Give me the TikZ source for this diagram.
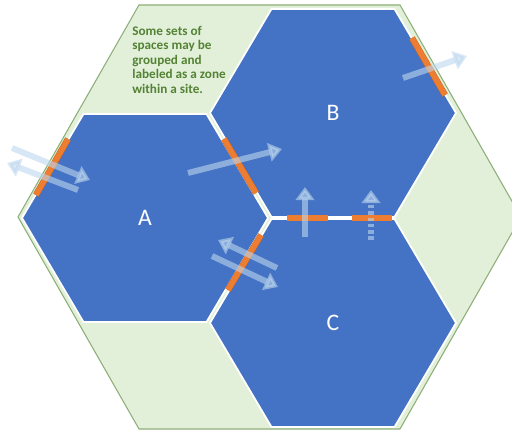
\documentclass[tikz,border=0pt]{standalone}
\usepackage{fontspec}
\setmainfont{Carlito}
\usepackage{tikz}
\usetikzlibrary{arrows.meta}
\definecolor{zonegreen}{HTML}{E2F0D9}
\definecolor{zoneedge}{HTML}{8CAE78}
\definecolor{spaceblue}{HTML}{4472C4}
\definecolor{doororange}{HTML}{ED7D31}
\definecolor{doordark}{HTML}{C9621C}
\definecolor{flowblue}{HTML}{BDD7EE}
\definecolor{notegreen}{HTML}{548235}

\begin{document}
\begin{tikzpicture}[x=0.02cm, y=-0.02cm,
  space/.style={fill=spaceblue, draw=white, line width=1pt},
  door/.style={doororange, line width=3.1pt, preaction={draw=doordark, line width=3.6pt}},
  flow/.style={flowblue, opacity=0.6, line width=3.4pt, -{Triangle[length=7.5pt,width=10.5pt]}},
  lab/.style={white, font=\fontsize{13.5}{15}\selectfont}]

  \useasboundingbox (0,0) rectangle (512,431);

  % Zone: outer hexagon
  \filldraw[fill=zonegreen, draw=zoneedge, line width=0.6pt] (18,217) -- (139,5) -- (400,5) -- (521,217) -- (400,429) -- (139,429) -- cycle;

  % Spaces A, B, C
  \foreach \cx/\cy/\name in {145/218/A, 333/113/B, 333/323/C}{
    \filldraw[space] (\cx-123,\cy) -- (\cx-61.5,\cy-104) -- (\cx+61.5,\cy-104) -- (\cx+123,\cy) -- (\cx+61.5,\cy+104) -- (\cx-61.5,\cy+104) -- cycle;
    \node[lab] (space\name) at (\cx,\cy) {\name};
  }

  % Doors on the edges
  \draw[door] (68,139) -- (36,195);
  \draw[door] (224,139) -- (256,193);
  \draw[door] (261,235) -- (228,290);
  \draw[door] (287,218) -- (328,218);
  \draw[door] (352,218) -- (392,218);
  \draw[door] (412,38) -- (445,95);

  % Flows through the doors
  \draw[flow] (12,148) -- (90,180);
  \draw[flow] (78,190) -- (7,163);
  \draw[flow] (188,173) -- (282,149);
  \draw[flow] (277,268) -- (218,240);
  \draw[flow] (212,256) -- (278,287);
  \draw[flow] (305,237) -- (305,187);
  \draw[flow, dash pattern=on 2pt off 1.6pt] (371,240) -- (371,190);
  \draw[flow] (403,78) -- (467,56);

  % Note
  \node[anchor=north west, align=left, text=notegreen, inner sep=0pt,
    font=\bfseries\fontsize{7.5}{8.2}\selectfont] (note) at (132,26)
    {Some sets of\\ spaces may be\\ grouped and\\ labeled as a zone\\ within a site.};

\end{tikzpicture}
\end{document}
